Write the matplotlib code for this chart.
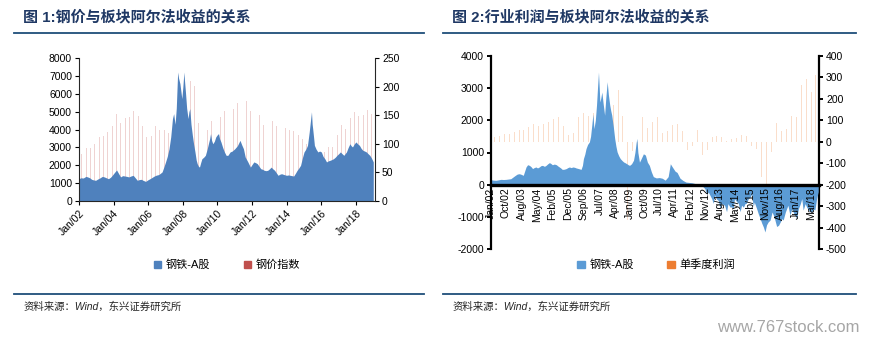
import matplotlib
matplotlib.use('Agg')
import matplotlib.pyplot as plt
from matplotlib.patches import Patch
from matplotlib.lines import Line2D

plt.rcParams['font.family'] = ['Liberation Sans', 'Noto Sans CJK SC']
plt.rcParams['axes.unicode_minus'] = False

# ---- 图1: 钢铁-A股 (左轴) ----
steel_t = [2002.00, 2002.10, 2002.25, 2002.40, 2002.50, 2002.62, 2002.73, 2002.85, 2002.96,
           2003.08, 2003.20, 2003.35, 2003.46, 2003.58, 2003.70, 2003.82, 2003.92, 2004.05,
           2004.17, 2004.28, 2004.40, 2004.52, 2004.65, 2004.76, 2004.88, 2005.00, 2005.13,
           2005.25, 2005.37, 2005.48, 2005.60, 2005.72, 2005.85, 2005.97, 2006.10, 2006.22,
           2006.35, 2006.47, 2006.60, 2006.70, 2006.80, 2006.90, 2007.00, 2007.10, 2007.20,
           2007.30, 2007.40, 2007.47, 2007.55, 2007.62, 2007.70, 2007.75, 2007.83, 2007.88,
           2007.94, 2008.00, 2008.06, 2008.10, 2008.15, 2008.22, 2008.30, 2008.35, 2008.40,
           2008.47, 2008.55, 2008.62, 2008.70, 2008.77, 2008.83, 2008.90, 2008.96, 2009.03,
           2009.10, 2009.20, 2009.30, 2009.40, 2009.50, 2009.55, 2009.60, 2009.66, 2009.73,
           2009.82, 2009.90, 2009.98, 2010.06, 2010.12, 2010.20, 2010.30, 2010.40, 2010.50,
           2010.60, 2010.73, 2010.85, 2011.00, 2011.15, 2011.30, 2011.40, 2011.50, 2011.60,
           2011.75, 2011.90, 2012.00, 2012.10, 2012.20, 2012.30, 2012.40, 2012.50, 2012.60,
           2012.70, 2012.80, 2012.90, 2013.00, 2013.10, 2013.20, 2013.30, 2013.40, 2013.50,
           2013.60, 2013.70, 2013.85, 2013.99, 2014.10, 2014.20, 2014.30, 2014.40, 2014.50,
           2014.60, 2014.70, 2014.80, 2014.90, 2015.00, 2015.10, 2015.20, 2015.30, 2015.36,
           2015.43, 2015.47, 2015.50, 2015.55, 2015.60, 2015.70, 2015.80, 2015.90, 2016.00,
           2016.10, 2016.20, 2016.30, 2016.40, 2016.50, 2016.60, 2016.70, 2016.80, 2016.90,
           2017.00, 2017.10, 2017.20, 2017.30, 2017.45, 2017.55, 2017.65, 2017.72, 2017.80,
           2017.90, 2018.00, 2018.10, 2018.20, 2018.30, 2018.40, 2018.50, 2018.60, 2018.70,
           2018.80, 2018.90, 2019.00]
steel_v = [1250, 1300, 1290, 1380, 1350, 1300, 1215, 1180, 1160,
           1230, 1290, 1380, 1350, 1300, 1250, 1330, 1440, 1600,
           1740, 1550, 1350, 1420, 1400, 1380, 1350, 1400, 1440,
           1300, 1160, 1200, 1215, 1150, 1100, 1180, 1250, 1320,
           1400, 1450, 1480, 1550, 1630, 1900, 2190, 2500, 2930,
           3600, 4620, 4900, 4300, 5200, 7230, 6900, 6580, 6200,
           5740, 6400, 7230, 6700, 6110, 5200, 4620, 5000, 5180,
           4300, 3680, 3200, 2750, 2300, 2090, 1950, 1900, 2150,
           2370, 2450, 2560, 2900, 3310, 3500, 3780, 3400, 3210,
           3350, 3590, 3700, 3780, 3500, 3310, 3000, 2750, 2560,
           2560, 2750, 2800, 2930, 3100, 3400, 3150, 2930, 2470,
           2200, 1900, 2050, 2190, 2150, 2090, 1950, 1810, 1780,
           1720, 1700, 1720, 1800, 1900, 1800, 1720, 1580, 1440,
           1500, 1530, 1480, 1440, 1460, 1440, 1420, 1400, 1550,
           1720, 1850, 2000, 2400, 2750, 2900, 3120, 3870, 4400,
           5000, 4300, 4060, 3600, 3120, 2900, 2750, 2800, 2750,
           2500, 2370, 2190, 2250, 2280, 2320, 2370, 2450, 2560,
           2650, 2750, 2650, 2560, 2750, 3000, 3210, 3100, 3030,
           3200, 3310, 3200, 3120, 2950, 2840, 2800, 2750, 2650,
           2560, 2400, 2190]

# 钢价指数 (右轴), 季度, 2002Q1 起
price_idx = [83, 92, 93, 99, 112, 114, 121, 131, 153, 137, 145, 147, 157, 149, 131, 112,
             114, 131, 125, 125, 120, 125, 122, 135, 165, 210, 202, 137, 136, 124, 141, 136,
             147, 157, 153, 162, 172, 175, 175, 157, 153, 151, 134, 136, 140, 131, 130, 128,
             124, 122, 115, 109, 100, 95, 88, 80, 85, 95, 95, 115, 134, 127, 145, 156,
             149, 150, 159, 153]
ticks1 = ['Jan/02', 'Jan/04', 'Jan/06', 'Jan/08', 'Jan/10', 'Jan/12', 'Jan/14', 'Jan/16', 'Jan/18']

# ---- 图2: 钢铁-A股 (左轴) ----
rel_t = [2002.00, 2002.12, 2002.25, 2002.38, 2002.50, 2002.63, 2002.76, 2002.88, 2003.00,
         2003.12, 2003.23, 2003.33, 2003.43, 2003.53, 2003.63, 2003.70, 2003.77, 2003.85,
         2003.94, 2004.02, 2004.10, 2004.18, 2004.27, 2004.35, 2004.44, 2004.52, 2004.60,
         2004.70, 2004.78, 2004.87, 2004.95, 2005.02, 2005.10, 2005.20, 2005.30, 2005.38,
         2005.45, 2005.52, 2005.60, 2005.70, 2005.80, 2005.88, 2005.96, 2006.05, 2006.13,
         2006.22, 2006.30, 2006.42, 2006.55, 2006.62, 2006.67, 2006.74, 2006.80, 2006.88,
         2006.97, 2007.03, 2007.10, 2007.15, 2007.20, 2007.27, 2007.33, 2007.38, 2007.43,
         2007.47, 2007.50, 2007.55, 2007.60, 2007.67, 2007.74, 2007.80, 2007.87, 2007.93,
         2008.00, 2008.05, 2008.10, 2008.18, 2008.25, 2008.31, 2008.37, 2008.45, 2008.53,
         2008.62, 2008.70, 2008.78, 2008.86, 2008.93, 2009.00, 2009.10, 2009.20, 2009.27,
         2009.33, 2009.37, 2009.42, 2009.50, 2009.58, 2009.70, 2009.80, 2009.90, 2010.00,
         2010.10, 2010.20, 2010.35, 2010.50, 2010.65, 2010.80, 2010.95, 2011.06, 2011.15,
         2011.30, 2011.40, 2011.55, 2011.70, 2011.85, 2012.00, 2012.15, 2012.40, 2012.64,
         2012.80, 2012.90, 2012.98, 2013.08, 2013.15, 2013.23, 2013.30, 2013.40, 2013.48,
         2013.57, 2013.65, 2013.80, 2013.90, 2013.97, 2014.08, 2014.15, 2014.24, 2014.30,
         2014.40, 2014.50, 2014.58, 2014.66, 2014.75, 2014.83, 2014.90, 2015.00, 2015.10,
         2015.17, 2015.25, 2015.30, 2015.42, 2015.50, 2015.59, 2015.68, 2015.76, 2015.84,
         2015.92, 2016.00, 2016.10, 2016.20, 2016.30, 2016.43, 2016.53, 2016.62, 2016.70,
         2016.76, 2016.87, 2017.00, 2017.10, 2017.20, 2017.30, 2017.44, 2017.53, 2017.62,
         2017.70, 2017.77, 2017.87, 2017.95, 2018.05, 2018.11, 2018.20, 2018.30, 2018.36,
         2018.45, 2018.53]
rel_v = [155, 140, 135, 150, 165, 160, 165, 175, 185,
         240, 290, 330, 340, 320, 290, 420, 550, 620,
         600, 560, 500, 530, 550, 520, 550, 590, 600,
         570, 600, 650, 685, 660, 620, 640, 620, 580,
         550, 520, 475, 480, 500, 530, 550, 530, 550,
         540, 520, 500, 475, 600, 810, 950, 1120, 1250,
         1330, 1500, 1900, 2200, 1740, 2000, 2470, 3000, 3500,
         3000, 2570, 2700, 2880, 2500, 2160, 2700, 3200, 2800,
         2470, 2300, 2160, 1800, 1430, 1200, 1020, 900, 810,
         750, 705, 680, 650, 620, 600, 650, 760, 1000,
         1300, 1440, 1000, 700, 800, 960, 920, 700, 600,
         400, 250, 210, 220, 200, 140, 250, 650, 560,
         420, 380, 200, 130, 80, 70, 60, 20, -20,
         -120, -300, -230, -350, -435, -580, -330, -450, -490,
         -735, -590, -640, -840, -590, -700, -690, -735, -435,
         -520, -590, -840, -640, -700, -590, -580, -435, -380,
         -280, -680, -540, -745, -900, -1045, -1200, -1315, -1470,
         -1250, -1160, -1100, -850, -1000, -1300, -1260, -1150, -1055,
         -1100, -850, -640, -940, -745, -900, -1045, -745, -600,
         -435, -790, -590, -700, -800, -840, -850, -760, -790,
         -435, -220]

# 单季度利润 (右轴), 2002Q1 - 2018Q2
profit = [22, 27, 37, 37, 47, 55, 55, 67, 83, 74, 83, 90, 104, 117, 74, 31,
          41, 117, 136, 122, 133, 171, 160, 120, 170, 240, 120, -365, -45, -25, 117, 64,
          94, 117, 41, 52, 78, 83, 52, -38, -20, 55, -62, -37, 22, 27, 22, 5,
          12, 16, 32, 27, -22, -34, -163, -195, -47, 87, 50, 60, 120, 114, 265, 291,
          234, 312]
ticks2 = ['Jan/02', 'Oct/02', 'Aug/03', 'May/04', 'Feb/05', 'Dec/05', 'Sep/06', 'Jul/07',
          'Apr/08', 'Jan/09', 'Oct/09', 'Jul/10', 'Apr/11', 'Feb/12', 'Nov/12', 'Aug/13',
          'May/14', 'Feb/15', 'Nov/15', 'Aug/16', 'Jun/17', 'Mar/18']

MONTHS = ['Jan', 'Feb', 'Mar', 'Apr', 'May', 'Jun', 'Jul', 'Aug', 'Sep', 'Oct', 'Nov', 'Dec']


def label_pos(lbl):
    m, y = lbl.split('/')
    return 2000 + int(y) + MONTHS.index(m) / 12


def quarter_pos(n, start=2002):
    # 季末月份位置
    return [start + i // 4 + (3 * (i % 4 + 1) - 1) / 12 for i in range(n)]


fig = plt.figure(figsize=(8.74, 3.44), dpi=100)
navy = '#1F3864'
line_c = '#1F4E79'

# ---------- 图1 ----------
ax1 = fig.add_axes([79 / 874, 1 - 201 / 344, 296 / 874, 142.7 / 344])
ax1b = ax1.twinx()
ax1.set_zorder(ax1b.get_zorder() + 1)
ax1.patch.set_visible(False)

ax1b.bar(quarter_pos(len(price_idx)), price_idx, width=0.05, color='#C0504D', alpha=0.25, lw=0)
ax1.fill_between(steel_t, 0, steel_v, color='#4F81BD', lw=0)

ax1.set_xlim(2002.0, 2019.1)
ax1.set_ylim(0, 8000)
ax1b.set_ylim(0, 250)
ax1.set_yticks(range(0, 8001, 1000))
ax1b.set_yticks(range(0, 251, 50))
ax1.set_xticks([label_pos(s) for s in ticks1])
ax1.set_xticklabels(ticks1, rotation=45, ha='right', rotation_mode='anchor')
for a in (ax1, ax1b):
    a.spines['top'].set_visible(False)
    for s in a.spines.values():
        s.set_linewidth(0.8)
        s.set_color('#262626')
ax1.spines['right'].set_visible(False)
ax1b.spines['left'].set_visible(False)
ax1b.spines['bottom'].set_visible(False)
ax1.tick_params(direction='out', length=3, width=0.8, labelsize=7.5, pad=2)
ax1b.tick_params(direction='out', length=3, width=0.8, labelsize=7.5, pad=2)

ax1.legend(handles=[Patch(color='#4F81BD', label='钢铁-A股'), Patch(color='#C0504D', label='钢价指数')],
           loc='center', bbox_to_anchor=(227 / 874, 1 - 265 / 344), bbox_transform=fig.transFigure,
           ncol=2, frameon=False, fontsize=8, handlelength=0.7, handleheight=0.7,
           handletextpad=0.4, columnspacing=3.0)

# ---------- 图2 ----------
ax2 = fig.add_axes([491 / 874, 1 - 249 / 344, 328 / 874, 193 / 344])
ax2b = ax2.twinx()
ax2.set_zorder(ax2b.get_zorder() + 1)
ax2.patch.set_visible(False)
# 先移动x轴到0处, 再设置刻度 (set_position会重置刻度)
ax2.spines['bottom'].set_position(('data', 0))

ax2b.bar(quarter_pos(len(profit)), profit, width=0.05, color='#ED7D31', alpha=0.25, lw=0)
ax2.fill_between(rel_t, 0, rel_v, color='#5B9BD5', lw=0)

ax2.set_xlim(2002.0, 2018.57)
ax2.set_ylim(-2000, 4000)
ax2b.set_ylim(-500, 400)
ax2.set_yticks(range(-2000, 4001, 1000))
ax2b.set_yticks(range(-500, 401, 100))
ax2.set_xticks([label_pos(s) for s in ticks2])
ax2.set_xticklabels(ticks2, rotation=90, va='top', ha='center')
ax2.spines['bottom'].set_linewidth(2.4)
ax2.spines['bottom'].set_color('black')
ax2.spines['bottom'].set_zorder(5)
for a in (ax2, ax2b):
    a.spines['top'].set_visible(False)
ax2.spines['right'].set_visible(False)
ax2b.spines['left'].set_visible(False)
ax2b.spines['bottom'].set_visible(False)
ax2.spines['left'].set_linewidth(1.6)
ax2b.spines['right'].set_linewidth(1.6)
ax2.tick_params(axis='x', length=0, labelsize=7.5, pad=2, labelrotation=90)
ax2.tick_params(axis='y', direction='out', length=3, width=1.4, labelsize=7.5, pad=2)
ax2b.tick_params(axis='y', direction='out', length=3, width=1.4, labelsize=7.5, pad=2)

ax2.legend(handles=[Patch(color='#5B9BD5', label='钢铁-A股'), Patch(color='#ED7D31', label='单季度利润')],
           loc='center', bbox_to_anchor=(656 / 874, 1 - 265 / 344), bbox_transform=fig.transFigure,
           ncol=2, frameon=False, fontsize=8, handlelength=0.7, handleheight=0.7,
           handletextpad=0.4, columnspacing=3.0)

# ---------- 标题/来源 ----------
fig.text(23 / 874, 1 - 17 / 344, '图 1:钢价与板块阿尔法收益的关系', fontsize=10.8, weight='bold',
         color=navy, va='center')
fig.text(452 / 874, 1 - 17 / 344, '图 2:行业利润与板块阿尔法收益的关系', fontsize=10.8, weight='bold',
         color=navy, va='center')
for x0, x1 in [(14, 424), (443, 856)]:
    fig.add_artist(Line2D([x0 / 874, x1 / 874], [1 - 33 / 344] * 2, color=line_c, lw=1.3))
    fig.add_artist(Line2D([x0 / 874, x1 / 874], [1 - 294 / 344] * 2, color=line_c, lw=1.3))
fig.text(24 / 874, 1 - 307 / 344, '资料来源：Wind，东兴证券研究所', fontsize=7.5, style='italic',
         color='#262626', va='center')
fig.text(453 / 874, 1 - 307 / 344, '资料来源：Wind，东兴证券研究所', fontsize=7.5, style='italic',
         color='#262626', va='center')
fig.text(860 / 874, 1 - 328 / 344, 'www.767stock.com', fontsize=12, color='#a6a6a6',
         ha='right', va='center')

fig.savefig('out.png', dpi=100)
